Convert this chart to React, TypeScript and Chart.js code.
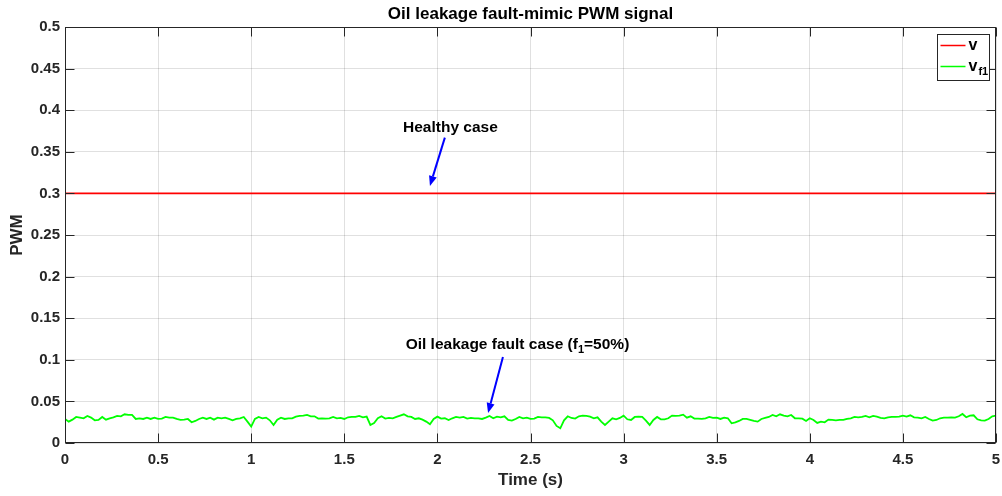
import React, { useEffect, useRef } from 'react';
import { Chart, registerables } from 'chart.js';

Chart.register(...registerables);

// ---------- data ----------
const chartTitle = 'Oil leakage fault-mimic PWM signal';
const xAxisTitle = 'Time (s)';
const yAxisTitle = 'PWM';

const xTickValues = [0, 0.5, 1, 1.5, 2, 2.5, 3, 3.5, 4, 4.5, 5];
const xTickLabels = ['0', '0.5', '1', '1.5', '2', '2.5', '3', '3.5', '4', '4.5', '5'];
const yTickValues = [0, 0.05, 0.1, 0.15, 0.2, 0.25, 0.3, 0.35, 0.4, 0.45, 0.5];
const yTickLabels = ['0', '0.05', '0.1', '0.15', '0.2', '0.25', '0.3', '0.35', '0.4', '0.45', '0.5'];

// healthy signal v
const healthyTimes = [0, 5];
const healthyValues = [0.3, 0.3];

// fault signal v_f1, sampled every 0.02 s from t = 0 to t = 5
const faultTimeStep = 0.02;
const faultValues = [
  0.0289, 0.0257, 0.0281, 0.0313, 0.0305, 0.0297, 0.0325, 0.0305, 0.0273, 0.0277,
  0.0313, 0.0281, 0.0297, 0.0309, 0.0325, 0.0321, 0.0345, 0.0337, 0.0337, 0.0289,
  0.0297, 0.0289, 0.0305, 0.0289, 0.0305, 0.0289, 0.0293, 0.0313, 0.0305, 0.0305,
  0.0289, 0.0277, 0.0281, 0.0289, 0.0249, 0.0265, 0.0289, 0.0305, 0.0289, 0.0305,
  0.0281, 0.0305, 0.0297, 0.0305, 0.0289, 0.0273, 0.0289, 0.0297, 0.0313, 0.0257,
  0.0197, 0.0289, 0.0313, 0.0297, 0.0305, 0.0273, 0.0217, 0.0281, 0.0305, 0.0289,
  0.0297, 0.0297, 0.0317, 0.0325,
  0.0329, 0.0337, 0.0321, 0.0321, 0.0293, 0.0297, 0.0293, 0.0297, 0.0313, 0.0297,
  0.0301, 0.0289, 0.0309, 0.0313, 0.0313, 0.0325, 0.0309, 0.0317, 0.0217, 0.0241,
  0.0297, 0.0321, 0.0293, 0.0301, 0.0297, 0.0313, 0.0329, 0.0345, 0.0321, 0.0313,
  0.0289, 0.0297, 0.0281, 0.0257, 0.0225, 0.0289, 0.0317, 0.0293, 0.0297, 0.0277,
  0.0297, 0.0313, 0.0305, 0.0313, 0.0293, 0.0301, 0.0297, 0.0297, 0.0289, 0.0305,
  0.0325, 0.0297, 0.0317, 0.0309, 0.0321, 0.0277, 0.0269, 0.0289, 0.0313, 0.0297,
  0.0305, 0.0289,
  0.0293, 0.0313, 0.0309, 0.0309, 0.0301, 0.0273, 0.0205, 0.0177, 0.0273, 0.0321,
  0.0301, 0.0293, 0.0321, 0.0329, 0.0325, 0.0317, 0.0297, 0.0309, 0.0257, 0.0217,
  0.0257, 0.0297, 0.0285, 0.0301, 0.0329, 0.0285, 0.0277, 0.0313, 0.0317, 0.0313,
  0.0269, 0.0217, 0.0277, 0.0313, 0.0285, 0.0285, 0.0297, 0.0329, 0.0325, 0.0329,
  0.0341, 0.0305, 0.0321, 0.0293, 0.0293, 0.0289, 0.0297, 0.0313, 0.0301, 0.0305,
  0.0289, 0.0305, 0.0297, 0.0237, 0.0249, 0.0265, 0.0289, 0.0289, 0.0277, 0.0265,
  0.0257, 0.0289,
  0.0301, 0.0313, 0.0337, 0.0321, 0.0345, 0.0329, 0.0321, 0.0337, 0.0297, 0.0297,
  0.0293, 0.0265, 0.0297, 0.0277, 0.0241, 0.0257, 0.0249, 0.0281, 0.0277, 0.0273,
  0.0277, 0.0277, 0.0289, 0.0297, 0.0313, 0.0309, 0.0313, 0.0325, 0.0309, 0.0325,
  0.0317, 0.0301, 0.0297, 0.0309, 0.0313, 0.0313, 0.0317, 0.0329, 0.0317, 0.0333,
  0.0309, 0.0305, 0.0297, 0.0313, 0.0289, 0.0269, 0.0277, 0.0297, 0.0305, 0.0305,
  0.0309, 0.0305, 0.0321, 0.0349, 0.0309, 0.0329, 0.0333, 0.0285, 0.0273, 0.0269,
  0.0289, 0.0321, 0.0329,
];

// annotations (data coordinates)
const healthyLabel = 'Healthy case';
const healthyLabelPos = [2.07, 0.379];
const healthyArrowTail = [2.04, 0.367];
const healthyArrowTip = [1.96, 0.309];

const faultLabelParts = ['Oil leakage fault case (f', '1', '=50%)'];
const faultLabelPos = [2.43, 0.118];
const faultArrowTail = [2.352, 0.1035];
const faultArrowTip = [2.272, 0.036];

const legendNames = ['v', 'v'];
const legendSubs = ['', 'f1'];
const seriesColors = ['#ff0000', '#00ff00'];

// ---------- styling ----------
const FONT = '"Liberation Sans", Arial, Helvetica, sans-serif';
const AXIS_COLOR = '#262626';
const GRID_COLOR = 'rgba(38,38,38,0.14)';
const ARROW_COLOR = '#0000ff';

function drawArrow(ctx: CanvasRenderingContext2D, x1: number, y1: number, x2: number, y2: number) {
  const ang = Math.atan2(y2 - y1, x2 - x1);
  const headLen = 10;
  const headW = 4;
  const bx = x2 - headLen * Math.cos(ang);
  const by = y2 - headLen * Math.sin(ang);
  ctx.strokeStyle = ARROW_COLOR;
  ctx.fillStyle = ARROW_COLOR;
  ctx.lineWidth = 2;
  ctx.beginPath();
  ctx.moveTo(x1, y1);
  ctx.lineTo(bx, by);
  ctx.stroke();
  ctx.beginPath();
  ctx.moveTo(x2, y2);
  ctx.lineTo(bx + headW * Math.sin(ang), by - headW * Math.cos(ang));
  ctx.lineTo(bx - headW * Math.sin(ang), by + headW * Math.cos(ang));
  ctx.closePath();
  ctx.fill();
}

const decorPlugin = {
  id: 'matlabDecor',
  beforeDraw(chart: any) {
    const { ctx, width, height } = chart;
    ctx.save();
    ctx.fillStyle = '#ffffff';
    ctx.fillRect(0, 0, width, height);
    ctx.restore();
  },
  afterDraw(chart: any) {
    const { ctx, chartArea: a, scales } = chart;
    const xs = scales.x;
    const ys = scales.y;
    ctx.save();

    // axes box
    const L = Math.round(a.left) + 0.5;
    const T = Math.round(a.top) + 0.5;
    const R = Math.round(a.right) - 0.5;
    const B = Math.round(a.bottom) - 0.5;
    ctx.strokeStyle = AXIS_COLOR;
    ctx.lineWidth = 1;
    ctx.strokeRect(L, T, R - L, B - T);

    // inward ticks on all four sides
    const tl = 9;
    ctx.beginPath();
    xTickValues.forEach((v) => {
      const px = Math.round(xs.getPixelForValue(v)) + 0.5;
      ctx.moveTo(px, B);
      ctx.lineTo(px, B - tl);
      ctx.moveTo(px, T);
      ctx.lineTo(px, T + tl);
    });
    yTickValues.forEach((v) => {
      const py = Math.round(ys.getPixelForValue(v)) + 0.5;
      ctx.moveTo(L, py);
      ctx.lineTo(L + tl, py);
      ctx.moveTo(R, py);
      ctx.lineTo(R - tl, py);
    });
    ctx.stroke();

    // title
    ctx.fillStyle = '#000000';
    ctx.font = `bold 17px ${FONT}`;
    ctx.textAlign = 'center';
    ctx.textBaseline = 'middle';
    ctx.fillText(chartTitle, (a.left + a.right) / 2, 14);

    // axis titles
    ctx.fillStyle = AXIS_COLOR;
    ctx.font = `bold 17px ${FONT}`;
    ctx.fillText(xAxisTitle, (a.left + a.right) / 2, 480);
    ctx.save();
    ctx.translate(17, (a.top + a.bottom) / 2);
    ctx.rotate(-Math.PI / 2);
    ctx.fillText(yAxisTitle, 0, 0);
    ctx.restore();

    // annotations
    const mainFont = `bold 15.5px ${FONT}`;
    const subFont = `bold 11px ${FONT}`;
    ctx.fillStyle = '#000000';
    ctx.font = mainFont;
    ctx.textAlign = 'center';
    ctx.fillText(healthyLabel, xs.getPixelForValue(healthyLabelPos[0]), ys.getPixelForValue(healthyLabelPos[1]));
    drawArrow(
      ctx,
      xs.getPixelForValue(healthyArrowTail[0]), ys.getPixelForValue(healthyArrowTail[1]),
      xs.getPixelForValue(healthyArrowTip[0]), ys.getPixelForValue(healthyArrowTip[1])
    );

    // fault label with subscript
    ctx.font = mainFont;
    const w0 = ctx.measureText(faultLabelParts[0]).width;
    const w2 = ctx.measureText(faultLabelParts[2]).width;
    ctx.font = subFont;
    const w1 = ctx.measureText(faultLabelParts[1]).width;
    const total = w0 + w1 + w2;
    const cx = xs.getPixelForValue(faultLabelPos[0]);
    const cy = ys.getPixelForValue(faultLabelPos[1]);
    let x = cx - total / 2;
    ctx.textAlign = 'left';
    ctx.fillStyle = '#000000';
    ctx.font = mainFont;
    ctx.fillText(faultLabelParts[0], x, cy);
    x += w0;
    ctx.font = subFont;
    ctx.fillText(faultLabelParts[1], x, cy + 5);
    x += w1;
    ctx.font = mainFont;
    ctx.fillText(faultLabelParts[2], x, cy);
    drawArrow(
      ctx,
      xs.getPixelForValue(faultArrowTail[0]), ys.getPixelForValue(faultArrowTail[1]),
      xs.getPixelForValue(faultArrowTip[0]), ys.getPixelForValue(faultArrowTip[1])
    );

    // legend
    const bx = Math.round(a.right) - 59 + 0.5;
    const by = Math.round(a.top) + 7 + 0.5;
    const bw = 52;
    const bh = 46;
    ctx.fillStyle = '#ffffff';
    ctx.fillRect(bx, by, bw, bh);
    ctx.strokeStyle = AXIS_COLOR;
    ctx.lineWidth = 1;
    ctx.strokeRect(bx, by, bw, bh);
    const rows = [by + 11, by + 32];
    legendNames.forEach((name, i) => {
      ctx.strokeStyle = seriesColors[i];
      ctx.lineWidth = 1.5;
      ctx.beginPath();
      ctx.moveTo(bx + 3, rows[i]);
      ctx.lineTo(bx + 28, rows[i]);
      ctx.stroke();
      ctx.fillStyle = '#000000';
      ctx.textAlign = 'left';
      ctx.textBaseline = 'middle';
      ctx.font = `bold 16px ${FONT}`;
      ctx.fillText(name, bx + 31, rows[i]);
      if (legendSubs[i]) {
        const nw = ctx.measureText(name).width;
        ctx.font = `bold 11px ${FONT}`;
        ctx.fillText(legendSubs[i], bx + 31 + nw + 1, rows[i] + 5);
      }
    });

    ctx.restore();
  },
};

export default function App() {
  const canvasRef = useRef<HTMLCanvasElement | null>(null);

  useEffect(() => {
    const canvas = canvasRef.current;
    if (!canvas) return;

    const healthyData = healthyTimes.map((t, i) => ({ x: t, y: healthyValues[i] }));
    const faultData = faultValues.map((v, i) => ({ x: i * faultTimeStep, y: v }));

    const chart = new Chart(canvas, {
      type: 'line',
      data: {
        datasets: [
          {
            label: 'v',
            data: healthyData,
            borderColor: seriesColors[0],
            borderWidth: 1.6,
            pointRadius: 0,
            tension: 0,
          },
          {
            label: 'v_f1',
            data: faultData,
            borderColor: seriesColors[1],
            borderWidth: 1.8,
            pointRadius: 0,
            tension: 0,
          },
        ],
      },
      options: {
        responsive: false,
        animation: false,
        layout: { padding: { left: 0, right: 6, top: 27, bottom: 0 } },
        plugins: {
          legend: { display: false },
          title: { display: false },
          tooltip: { enabled: false },
        },
        scales: {
          x: {
            type: 'linear',
            min: 0,
            max: 5,
            afterBuildTicks: (scale: any) => {
              scale.ticks = xTickValues.map((v) => ({ value: v }));
            },
            afterFit: (scale: any) => {
              scale.height = 53;
              scale.paddingLeft = 0;
              scale.paddingRight = 0;
            },
            ticks: {
              padding: 8,
              maxRotation: 0,
              autoSkip: false,
              color: AXIS_COLOR,
              font: { family: FONT, size: 15, weight: 'bold' },
              callback: (_v: any, i: number) => xTickLabels[i],
            },
            grid: { color: GRID_COLOR, drawTicks: false, lineWidth: 1 },
            border: { display: false },
          },
          y: {
            type: 'linear',
            min: 0,
            max: 0.5,
            afterBuildTicks: (scale: any) => {
              scale.ticks = yTickValues.map((v) => ({ value: v }));
            },
            afterFit: (scale: any) => {
              scale.width = 65;
              scale.paddingTop = 0;
              scale.paddingBottom = 0;
            },
            ticks: {
              padding: 5,
              autoSkip: false,
              color: AXIS_COLOR,
              font: { family: FONT, size: 15, weight: 'bold' },
              callback: (_v: any, i: number) => yTickLabels[i],
            },
            grid: { color: GRID_COLOR, drawTicks: false, lineWidth: 1 },
            border: { display: false },
          },
        },
      },
      plugins: [decorPlugin],
    } as any);

    return () => {
      chart.destroy();
    };
  }, []);

  return (
    <div style={{ position: 'fixed', left: 0, top: 0, width: 1002, height: 496 }}>
      <canvas ref={canvasRef} width={1002} height={496} style={{ display: 'block' }} />
    </div>
  );
}
